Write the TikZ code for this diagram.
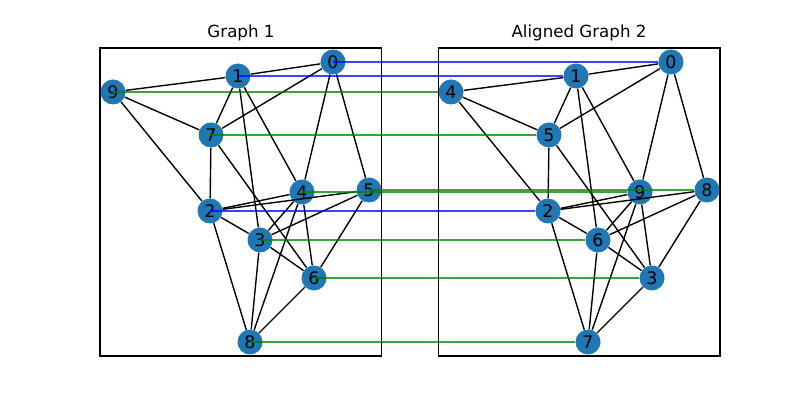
\documentclass[tikz,border=0pt]{standalone}
\usepackage{fontspec}
\setmainfont{DejaVu Sans}
\definecolor{nodeblue}{HTML}{1F77B4}
\definecolor{mgreen}{HTML}{008000}
\newcommand{\vtx}[4]{\node[vtx] (#1) at (#2,#3) {#4};}

\begin{document}
\begin{tikzpicture}[x=0.72pt,y=-0.72pt,
  vtx/.style={circle,fill=nodeblue,inner sep=0pt,minimum size=18pt,font=\fontsize{12.5}{14}\selectfont},
  edge/.style={line width=1pt,black},
  match/.style={line width=1pt,opacity=0.75},
  frame/.style={line width=0.8pt,black},
  title/.style={font=\fontsize{12}{14}\selectfont}]
\useasboundingbox (0,0) rectangle (800,400);
% panels
\draw[frame] (100,48) rectangle (381.8,356);
\draw[frame] (438.2,48) rectangle (720,356);
\node[title] (t1) at (241,33) {Graph 1};
\node[title] (t2) at (579,33) {Aligned Graph 2};
% graph 1
\vtx{a0}{333}{62}{0}
\vtx{a1}{238}{76}{1}
\vtx{a2}{210}{211}{2}
\vtx{a3}{260}{240}{3}
\vtx{a4}{302}{192}{4}
\vtx{a5}{369}{190}{5}
\vtx{a6}{314}{278}{6}
\vtx{a7}{211}{135}{7}
\vtx{a8}{250}{342}{8}
\vtx{a9}{113}{92}{9}
\foreach \u/\v in {0/1,1/9,0/7,1/7,9/7,9/2,1/3,1/4,0/4,0/5,7/2,7/6,2/4,2/5,2/3,2/8,4/3,4/6,4/8,5/3,5/6,3/6,3/8,6/8}
  \draw[edge] (a\u) -- (a\v);
% graph 2, same layout moved right
\vtx{b0}{671}{62}{0}
\vtx{b1}{576}{76}{1}
\vtx{b4}{451}{92}{4}
\vtx{b5}{549}{135}{5}
\vtx{b9}{640}{192}{9}
\vtx{b8}{707}{190}{8}
\vtx{b2}{548}{211}{2}
\vtx{b6}{598}{240}{6}
\vtx{b3}{652}{278}{3}
\vtx{b7}{588}{342}{7}
\foreach \u/\v in {0/1,1/4,0/5,1/5,4/5,4/2,1/6,1/9,0/9,0/8,5/2,5/3,2/9,2/8,2/6,2/7,9/6,9/3,9/7,8/6,8/3,6/3,6/7,3/7}
  \draw[edge] (b\u) -- (b\v);
% alignment
\foreach \u/\v/\c in {0/0/blue,1/1/blue,9/4/mgreen,7/5/mgreen,4/9/mgreen,5/8/mgreen,2/2/blue,3/6/mgreen,6/3/mgreen,8/7/mgreen}
  \draw[match,\c] (a\u.center) -- (b\v);
\end{tikzpicture}
\end{document}
